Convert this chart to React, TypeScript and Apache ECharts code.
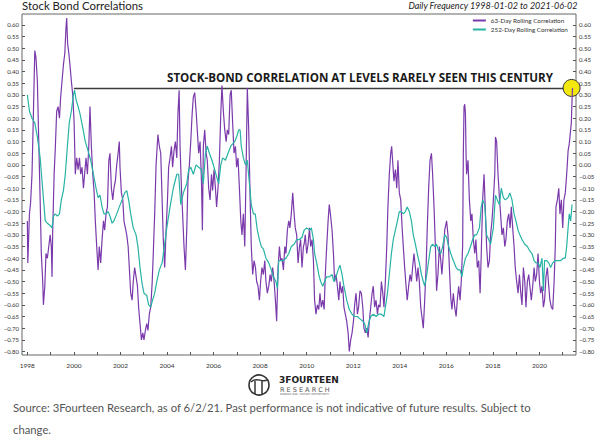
import React, { useEffect, useRef } from "react";
import * as echarts from "echarts";

// 63-day rolling stock/bond correlation, [decimal year, correlation]
const rolling63: [number, number][] = [
  [1998.0, -0.24], [1998.02, -0.42], [1998.09, -0.21], [1998.14, -0.16], [1998.2, -0.04], [1998.26, 0.22], [1998.32, 0.49], [1998.37, 0.46], [1998.43, 0.36], [1998.49, 0.1], [1998.55, -0.15], [1998.6, -0.38], [1998.66, -0.5], [1998.69, -0.6], [1998.75, -0.52], [1998.8, -0.38], [1998.86, -0.4], [1998.92, -0.35], [1998.98, -0.3], [1999.03, -0.35], [1999.06, -0.48], [1999.09, -0.28], [1999.15, -0.04], [1999.2, 0.07], [1999.26, 0.23], [1999.32, 0.25], [1999.38, 0.2], [1999.43, 0.29], [1999.49, 0.36], [1999.55, 0.43], [1999.61, 0.48], [1999.66, 0.59], [1999.69, 0.63], [1999.73, 0.52], [1999.78, 0.48], [1999.83, 0.43], [1999.89, 0.36], [1999.95, 0.3],
  [2000.01, 0.18], [2000.06, -0.04], [2000.12, 0.03], [2000.18, -0.02], [2000.24, 0.03], [2000.29, -0.04], [2000.35, -0.01], [2000.41, -0.1], [2000.46, -0.04], [2000.52, 0.03], [2000.58, -0.04], [2000.64, 0.08], [2000.69, 0.25], [2000.75, 0.08], [2000.81, -0.04], [2000.87, -0.12], [2000.92, -0.24], [2000.98, -0.35], [2001.04, -0.45], [2001.09, -0.35], [2001.15, -0.42], [2001.21, -0.32], [2001.27, -0.24], [2001.32, -0.28], [2001.38, -0.21], [2001.44, -0.18], [2001.5, 0.02], [2001.55, 0.05], [2001.61, -0.1], [2001.67, -0.15], [2001.72, -0.1], [2001.78, -0.07], [2001.84, 0.0], [2001.9, 0.05], [2001.95, 0.1], [2001.98, -0.01],
  [2002.04, -0.12], [2002.1, -0.15], [2002.15, -0.24], [2002.21, -0.27], [2002.27, -0.3], [2002.33, -0.35], [2002.38, -0.44], [2002.44, -0.55], [2002.5, -0.58], [2002.55, -0.5], [2002.61, -0.44], [2002.67, -0.48], [2002.73, -0.52], [2002.78, -0.61], [2002.84, -0.68], [2002.9, -0.75], [2002.96, -0.72], [2003.01, -0.75], [2003.07, -0.71], [2003.13, -0.68], [2003.18, -0.71], [2003.24, -0.64], [2003.3, -0.61], [2003.36, -0.51], [2003.41, -0.38], [2003.47, -0.21], [2003.53, 0.0], [2003.59, 0.1], [2003.61, 0.13], [2003.67, 0.08], [2003.73, 0.05], [2003.79, -0.15], [2003.84, -0.32], [2003.9, -0.44],
  [2003.96, -0.28], [2004.02, -0.15], [2004.07, -0.01], [2004.13, 0.03], [2004.19, 0.08], [2004.24, -0.01], [2004.3, 0.06], [2004.36, 0.1], [2004.42, 0.03], [2004.47, 0.22], [2004.52, 0.32], [2004.56, 0.08], [2004.62, -0.1], [2004.67, -0.21], [2004.73, -0.35], [2004.79, -0.45], [2004.85, -0.27], [2004.9, -0.07], [2004.96, 0.0], [2005.02, 0.1], [2005.08, 0.22], [2005.13, 0.29], [2005.19, 0.31], [2005.25, 0.23], [2005.3, 0.15], [2005.36, 0.05], [2005.42, 0.1], [2005.48, -0.07], [2005.52, -0.28], [2005.56, 0.08], [2005.62, 0.15], [2005.68, 0.05], [2005.73, 0.02], [2005.79, -0.1], [2005.85, -0.15], [2005.91, -0.04], [2005.96, -0.11],
  [2006.02, -0.02], [2006.08, -0.1], [2006.13, -0.18], [2006.19, -0.1], [2006.25, 0.02], [2006.31, 0.22], [2006.36, 0.34], [2006.42, 0.23], [2006.48, 0.15], [2006.54, 0.1], [2006.59, 0.15], [2006.65, 0.13], [2006.71, 0.3], [2006.76, 0.32], [2006.82, 0.18], [2006.88, 0.05], [2006.94, 0.08], [2006.99, -0.01], [2007.05, 0.03], [2007.11, -0.1], [2007.17, -0.24], [2007.22, -0.3], [2007.28, -0.21], [2007.34, -0.35], [2007.39, -0.07], [2007.45, 0.33], [2007.51, 0.15], [2007.57, -0.14], [2007.62, -0.35], [2007.68, -0.47], [2007.74, -0.41], [2007.8, -0.44], [2007.85, -0.5], [2007.91, -0.52], [2007.97, -0.58],
  [2008.02, -0.5], [2008.08, -0.44], [2008.14, -0.47], [2008.2, -0.41], [2008.25, -0.5], [2008.31, -0.55], [2008.37, -0.52], [2008.43, -0.47], [2008.48, -0.5], [2008.54, -0.44], [2008.6, -0.5], [2008.65, -0.57], [2008.71, -0.67], [2008.77, -0.44], [2008.83, -0.35], [2008.88, -0.41], [2008.94, -0.4], [2009.0, -0.45], [2009.06, -0.35], [2009.11, -0.38], [2009.17, -0.28], [2009.23, -0.24], [2009.28, -0.27], [2009.34, -0.21], [2009.4, -0.12], [2009.46, -0.21], [2009.51, -0.27], [2009.57, -0.3], [2009.63, -0.42], [2009.69, -0.35], [2009.74, -0.32], [2009.8, -0.44], [2009.86, -0.35],
  [2009.89, -0.34], [2009.94, -0.3], [2010.0, -0.38], [2010.06, -0.34], [2010.12, -0.27], [2010.17, -0.35], [2010.23, -0.32], [2010.29, -0.41], [2010.34, -0.58], [2010.4, -0.64], [2010.46, -0.6], [2010.52, -0.62], [2010.57, -0.55], [2010.63, -0.61], [2010.69, -0.58], [2010.75, -0.62], [2010.8, -0.47], [2010.86, -0.35], [2010.92, -0.24], [2010.97, -0.17], [2011.03, -0.22], [2011.09, -0.28], [2011.15, -0.38], [2011.2, -0.5], [2011.26, -0.47], [2011.32, -0.52], [2011.38, -0.58], [2011.43, -0.5], [2011.49, -0.55], [2011.55, -0.52], [2011.6, -0.61], [2011.66, -0.64], [2011.72, -0.67], [2011.78, -0.72], [2011.83, -0.8], [2011.89, -0.75], [2011.95, -0.72],
  [2012.01, -0.67], [2012.06, -0.6], [2012.12, -0.55], [2012.18, -0.64], [2012.23, -0.61], [2012.29, -0.54], [2012.35, -0.55], [2012.41, -0.61], [2012.46, -0.7], [2012.52, -0.72], [2012.58, -0.7], [2012.64, -0.74], [2012.69, -0.67], [2012.75, -0.61], [2012.81, -0.55], [2012.86, -0.52], [2012.92, -0.61], [2012.98, -0.58], [2013.04, -0.64], [2013.09, -0.6], [2013.15, -0.61], [2013.21, -0.5], [2013.27, -0.55], [2013.32, -0.61], [2013.38, -0.5], [2013.44, -0.35], [2013.49, -0.18], [2013.55, -0.04], [2013.61, 0.05], [2013.65, 0.08], [2013.69, 0.02], [2013.75, -0.07], [2013.81, -0.02], [2013.87, -0.1], [2013.92, 0.02], [2013.98, -0.12],
  [2014.04, -0.15], [2014.1, -0.27], [2014.15, -0.35], [2014.21, -0.44], [2014.27, -0.52], [2014.32, -0.58], [2014.38, -0.52], [2014.44, -0.47], [2014.5, -0.5], [2014.55, -0.44], [2014.61, -0.38], [2014.67, -0.44], [2014.73, -0.5], [2014.78, -0.44], [2014.84, -0.5], [2014.9, -0.61], [2014.95, -0.65], [2015.01, -0.7], [2015.07, -0.58], [2015.13, -0.44], [2015.18, -0.27], [2015.24, -0.1], [2015.3, 0.02], [2015.36, 0.05], [2015.41, -0.04], [2015.47, -0.18], [2015.53, -0.35], [2015.58, -0.54], [2015.64, -0.47], [2015.7, -0.35], [2015.76, -0.41], [2015.81, -0.47], [2015.87, -0.38], [2015.93, -0.28],
  [2016.01, -0.24], [2016.07, -0.3], [2016.13, -0.44], [2016.19, -0.57], [2016.24, -0.62], [2016.3, -0.55], [2016.36, -0.61], [2016.42, -0.65], [2016.47, -0.58], [2016.53, -0.52], [2016.59, -0.58], [2016.64, -0.5], [2016.7, -0.35], [2016.73, 0.05], [2016.76, 0.25], [2016.79, 0.26], [2016.82, 0.22], [2016.85, 0.03], [2016.87, -0.04], [2016.93, 0.02], [2016.99, -0.15], [2017.05, -0.24], [2017.1, -0.21], [2017.16, -0.32], [2017.22, -0.38], [2017.27, -0.32], [2017.33, -0.44], [2017.39, -0.41], [2017.45, -0.55], [2017.5, -0.38], [2017.56, -0.15], [2017.62, -0.04], [2017.68, -0.21], [2017.73, -0.35], [2017.79, -0.44], [2017.85, -0.41], [2017.9, -0.3], [2017.96, -0.24],
  [2018.02, -0.15], [2018.08, -0.04], [2018.11, 0.12], [2018.16, 0.1], [2018.22, -0.04], [2018.28, -0.14], [2018.33, -0.21], [2018.39, -0.3], [2018.45, -0.27], [2018.51, -0.35], [2018.56, -0.32], [2018.62, -0.24], [2018.68, -0.21], [2018.74, -0.27], [2018.79, -0.18], [2018.85, -0.27], [2018.91, -0.35], [2018.96, -0.44], [2019.02, -0.5], [2019.08, -0.55], [2019.14, -0.47], [2019.19, -0.54], [2019.25, -0.6], [2019.31, -0.44], [2019.37, -0.5], [2019.42, -0.61], [2019.48, -0.5], [2019.54, -0.47], [2019.59, -0.52], [2019.65, -0.58], [2019.71, -0.52], [2019.77, -0.44], [2019.82, -0.5], [2019.88, -0.47], [2019.94, -0.38],
  [2020.0, -0.5], [2020.05, -0.55], [2020.11, -0.52], [2020.17, -0.61], [2020.22, -0.58], [2020.28, -0.48], [2020.34, -0.44], [2020.4, -0.52], [2020.45, -0.58], [2020.51, -0.61], [2020.57, -0.62], [2020.63, -0.5], [2020.68, -0.35], [2020.71, -0.18], [2020.77, -0.15], [2020.83, -0.1], [2020.88, -0.21], [2020.94, -0.15], [2021.0, -0.27], [2021.05, -0.15], [2021.11, -0.12], [2021.17, -0.04], [2021.23, 0.06], [2021.28, 0.09], [2021.34, 0.15], [2021.37, 0.18], [2021.4, 0.28], [2021.42, 0.33],
];

// 252-day rolling stock/bond correlation, [decimal year, correlation]
const rolling252: [number, number][] = [
  [1998.0, 0.3], [1998.09, 0.23], [1998.2, 0.2], [1998.32, 0.18], [1998.43, 0.12], [1998.55, 0.03], [1998.63, -0.07], [1998.72, -0.18], [1998.77, -0.24], [1998.86, -0.25], [1998.98, -0.26], [1999.06, -0.27], [1999.12, -0.22], [1999.2, -0.21], [1999.29, -0.22], [1999.38, -0.21], [1999.46, -0.15], [1999.55, -0.11], [1999.63, -0.04], [1999.72, 0.08], [1999.8, 0.18], [1999.89, 0.23], [1999.98, 0.3],
  [2000.03, 0.32], [2000.09, 0.28], [2000.18, 0.25], [2000.26, 0.22], [2000.38, 0.16], [2000.49, 0.1], [2000.61, 0.06], [2000.72, 0.02], [2000.84, -0.04], [2000.95, -0.1], [2001.04, -0.14], [2001.12, -0.13], [2001.21, -0.18], [2001.29, -0.21], [2001.38, -0.21], [2001.47, -0.2], [2001.55, -0.22], [2001.64, -0.25], [2001.72, -0.24], [2001.84, -0.21], [2001.95, -0.18],
  [2002.07, -0.15], [2002.18, -0.12], [2002.27, -0.11], [2002.35, -0.15], [2002.44, -0.21], [2002.55, -0.27], [2002.67, -0.3], [2002.75, -0.35], [2002.84, -0.44], [2002.93, -0.51], [2003.01, -0.55], [2003.13, -0.56], [2003.21, -0.6], [2003.3, -0.61], [2003.38, -0.58], [2003.47, -0.55], [2003.56, -0.5], [2003.67, -0.45], [2003.79, -0.42], [2003.87, -0.36],
  [2003.99, -0.27], [2004.13, -0.18], [2004.27, -0.1], [2004.42, -0.04], [2004.5, -0.04], [2004.59, -0.17], [2004.7, -0.12], [2004.85, -0.08], [2004.93, -0.02], [2005.02, -0.01], [2005.13, -0.04], [2005.25, 0.0], [2005.36, -0.01], [2005.48, -0.02], [2005.56, -0.08], [2005.65, 0.05], [2005.73, 0.08], [2005.82, 0.05], [2005.93, 0.02],
  [2006.02, -0.01], [2006.13, -0.05], [2006.22, -0.08], [2006.31, 0.0], [2006.39, 0.03], [2006.51, 0.02], [2006.62, 0.05], [2006.74, 0.08], [2006.82, 0.09], [2006.91, 0.1], [2006.99, 0.12], [2007.08, 0.15], [2007.14, 0.15], [2007.19, 0.08], [2007.28, 0.03], [2007.37, 0.0], [2007.45, 0.02], [2007.54, -0.08], [2007.62, -0.17], [2007.71, -0.21], [2007.79, -0.21], [2007.88, -0.28], [2007.97, -0.32],
  [2008.05, -0.35], [2008.14, -0.36], [2008.25, -0.4], [2008.37, -0.42], [2008.48, -0.45], [2008.57, -0.48], [2008.68, -0.5], [2008.74, -0.53], [2008.8, -0.41], [2008.88, -0.41], [2009.0, -0.41], [2009.11, -0.4], [2009.23, -0.38], [2009.34, -0.35], [2009.46, -0.34], [2009.57, -0.32], [2009.69, -0.32], [2009.8, -0.31], [2009.89, -0.28],
  [2010.0, -0.27], [2010.14, -0.28], [2010.2, -0.27], [2010.29, -0.32], [2010.34, -0.38], [2010.43, -0.42], [2010.52, -0.47], [2010.6, -0.5], [2010.69, -0.52], [2010.77, -0.5], [2010.86, -0.48], [2010.97, -0.48], [2011.09, -0.47], [2011.17, -0.5], [2011.26, -0.48], [2011.35, -0.45], [2011.43, -0.43], [2011.52, -0.47], [2011.6, -0.52], [2011.72, -0.58], [2011.83, -0.62], [2011.95, -0.64],
  [2012.06, -0.65], [2012.18, -0.65], [2012.29, -0.66], [2012.41, -0.67], [2012.49, -0.68], [2012.58, -0.72], [2012.66, -0.68], [2012.75, -0.65], [2012.86, -0.64], [2012.98, -0.65], [2013.09, -0.64], [2013.21, -0.64], [2013.32, -0.65], [2013.38, -0.61], [2013.47, -0.55], [2013.55, -0.47], [2013.64, -0.38], [2013.72, -0.32], [2013.81, -0.28], [2013.9, -0.24], [2013.98, -0.2],
  [2014.07, -0.2], [2014.15, -0.21], [2014.24, -0.2], [2014.32, -0.18], [2014.41, -0.2], [2014.5, -0.24], [2014.58, -0.3], [2014.67, -0.34], [2014.75, -0.38], [2014.84, -0.42], [2014.93, -0.47], [2015.01, -0.5], [2015.07, -0.52], [2015.16, -0.47], [2015.24, -0.41], [2015.33, -0.35], [2015.41, -0.34], [2015.5, -0.35], [2015.58, -0.34], [2015.67, -0.37], [2015.76, -0.38], [2015.84, -0.35], [2015.93, -0.3],
  [2016.01, -0.31], [2016.1, -0.35], [2016.19, -0.38], [2016.3, -0.41], [2016.42, -0.44], [2016.5, -0.45], [2016.59, -0.45], [2016.67, -0.48], [2016.73, -0.44], [2016.82, -0.4], [2016.93, -0.38], [2017.04, -0.35], [2017.13, -0.32], [2017.22, -0.3], [2017.3, -0.3], [2017.42, -0.27], [2017.5, -0.18], [2017.56, -0.15], [2017.65, -0.17], [2017.73, -0.3], [2017.82, -0.32], [2017.9, -0.34],
  [2018.02, -0.27], [2018.11, -0.13], [2018.19, -0.15], [2018.28, -0.17], [2018.36, -0.1], [2018.45, -0.14], [2018.53, -0.15], [2018.65, -0.14], [2018.73, -0.12], [2018.82, -0.15], [2018.91, -0.21], [2018.99, -0.24], [2019.08, -0.28], [2019.16, -0.3], [2019.25, -0.32], [2019.37, -0.34], [2019.48, -0.35], [2019.59, -0.37], [2019.68, -0.38], [2019.77, -0.41], [2019.85, -0.42], [2019.94, -0.42],
  [2020.02, -0.44], [2020.11, -0.4], [2020.17, -0.54], [2020.22, -0.41], [2020.31, -0.41], [2020.4, -0.42], [2020.48, -0.44], [2020.57, -0.42], [2020.68, -0.41], [2020.8, -0.41], [2020.91, -0.41], [2021.03, -0.4], [2021.11, -0.4], [2021.17, -0.35], [2021.23, -0.27], [2021.28, -0.21], [2021.34, -0.24], [2021.4, -0.17],
];

const seriesNames = ["63-Day Rolling Correlation", "252-Day Rolling Correlation"];
const yearTicks = [1998, 1999, 2000, 2001, 2002, 2003, 2004, 2005, 2006, 2007, 2008, 2009, 2010, 2011, 2012, 2013, 2014, 2015, 2016, 2017, 2018, 2019, 2020, 2021];
const yearLabels = [1998, 2000, 2002, 2004, 2006, 2008, 2010, 2012, 2014, 2016, 2018, 2020];
const corrTicks = [-0.8, -0.75, -0.7, -0.65, -0.6, -0.55, -0.5, -0.45, -0.4, -0.35, -0.3, -0.25, -0.2, -0.15, -0.1, -0.05, 0, 0.05, 0.1, 0.15, 0.2, 0.25, 0.3, 0.35, 0.4, 0.45, 0.5, 0.55, 0.6];

// reference level and date of the latest reading
const highlightLevel = 0.33;
const highlightStart = 2000.0;
const highlightDate = 2021.38;

const title = "Stock Bond Correlations";
const subtitle = "Daily Frequency 1998-01-02 to 2021-06-02";
const callout = "STOCK-BOND CORRELATION AT LEVELS RARELY SEEN THIS CENTURY";
const sourceLine1 = "Source: 3Fourteen Research, as of 6/2/21. Past performance is not indicative of future results. Subject to";
const sourceLine2 = "change.";

const PURPLE = "#7a3aab";
const TEAL = "#27b3a4";
const FONT = "Lato, 'Open Sans', sans-serif";

const fmtCorr = (v: number) => (v < 0 ? "\u2212" : "") + Math.abs(v).toFixed(2);

function yAxisFor(position: "left" | "right") {
  return {
    type: "value" as const,
    position,
    min: -0.815,
    max: 0.647,
    splitLine: { show: false },
    axisLine: { show: false, onZero: false },
    axisTick: { show: true, inside: true, length: 3, customValues: corrTicks, lineStyle: { color: "#555", width: 1 } },
    axisLabel: {
      customValues: corrTicks,
      formatter: fmtCorr,
      fontSize: 6,
      fontFamily: FONT,
      color: "#333",
      margin: 3,
    },
  };
}

export default function App() {
  const ref = useRef<HTMLDivElement>(null);

  useEffect(() => {
    if (!ref.current) return;
    const chart = echarts.init(ref.current, null, { renderer: "svg" });
    chart.setOption({
      animation: false,
      backgroundColor: "#ffffff",
      grid: { left: 22, right: 23, top: 14, bottom: 90, show: true, borderColor: "#666", borderWidth: 1, containLabel: false },
      legend: {
        data: seriesNames,
        orient: "vertical",
        right: 31,
        top: 17,
        padding: 0,
        itemWidth: 13,
        itemHeight: 2,
        itemGap: 2,
        icon: "rect",
        textStyle: { fontSize: 6.3, fontFamily: FONT, color: "#333", lineHeight: 7 },
      },
      xAxis: {
        type: "value",
        min: 1997.77,
        max: 2021.57,
        splitLine: { show: false },
        axisLine: { show: false, onZero: false },
        axisTick: { show: true, inside: true, length: 3, customValues: yearTicks, lineStyle: { color: "#555" } },
        axisLabel: { customValues: yearLabels, formatter: (v: number) => String(Math.round(v)), fontSize: 6.5, fontFamily: FONT, color: "#333", margin: 7 },
      },
      yAxis: [yAxisFor("left"), yAxisFor("right")],
      series: [
        {
          name: seriesNames[0],
          type: "line",
          data: rolling63,
          showSymbol: false,
          symbol: "none",
          color: PURPLE,
          lineStyle: { width: 1.2, color: PURPLE },
          z: 3,
          markLine: {
            silent: true,
            z: 1,
            symbol: ["none", "none"],
            label: { show: false },
            lineStyle: { color: "#3c3c3c", width: 1.4, type: "solid" },
            data: [[{ coord: [highlightStart, highlightLevel] }, { coord: [highlightDate, highlightLevel] }]],
          },
          markPoint: {
            silent: true,
            z: 1,
            symbol: "circle",
            symbolSize: 17,
            label: { show: false },
            itemStyle: { color: "#f2e80f", borderColor: "#333", borderWidth: 1 },
            data: [{ coord: [highlightDate, highlightLevel] }],
          },
        },
        {
          name: seriesNames[1],
          type: "line",
          data: rolling252,
          showSymbol: false,
          symbol: "none",
          color: TEAL,
          lineStyle: { width: 1.2, color: TEAL },
          z: 4,
        },
      ],
      graphic: [
        { type: "text", left: 22, top: 0, style: { text: title, font: `11.4px ${FONT}`, fill: "#222" } },
        { type: "text", right: 21, top: 1, style: { text: subtitle, font: `italic 9px ${FONT}`, fill: "#222" } },
        {
          type: "text",
          x: 360,
          y: 77,
          style: { text: callout, font: `bold 11.6px 'Open Sans', sans-serif`, fill: "#1a1a1a", align: "center", verticalAlign: "middle" },
          z: 10,
        },
        // 3Fourteen Research logo
        { type: "circle", shape: { cx: 259, cy: 385, r: 10 }, style: { fill: "none", stroke: "#333", lineWidth: 1.6 } },
        { type: "line", shape: { x1: 255, y1: 381, x2: 255, y2: 394 }, style: { stroke: "#333", lineWidth: 1.5 } },
        { type: "line", shape: { x1: 262, y1: 381, x2: 262, y2: 394 }, style: { stroke: "#333", lineWidth: 1.5 } },
        { type: "bezierCurve", shape: { x1: 251, y1: 382, x2: 267, y2: 380, cpx1: 256, cpy1: 376, cpx2: 262, cpy2: 383 }, style: { fill: "none", stroke: "#333", lineWidth: 1.5 } },
        { type: "text", x: 279, y: 375, style: { text: "3FOURTEEN", font: `bold 9px 'DejaVu Sans', sans-serif`, fill: "#222" } },
        { type: "text", x: 280, y: 386, style: { text: "R E S E A R C H", font: `6.5px 'DejaVu Sans', sans-serif`, fill: "#555" } },
        { type: "text", x: 280, y: 393, style: { text: "MANAGE RISK. EXPLOIT OPPORTUNITY", font: `2.6px 'DejaVu Sans', sans-serif`, fill: "#666" } },
        { type: "text", x: 13, y: 407, style: { text: sourceLine1, font: `11.3px ${FONT}`, fill: "#555", verticalAlign: "middle" } },
        { type: "text", x: 13, y: 429, style: { text: sourceLine2, font: `11.3px ${FONT}`, fill: "#555", verticalAlign: "middle" } },
      ],
    });
    return () => chart.dispose();
  }, []);

  return <div ref={ref} style={{ width: 599, height: 445, position: "absolute", left: 0, top: 0 }} />;
}
